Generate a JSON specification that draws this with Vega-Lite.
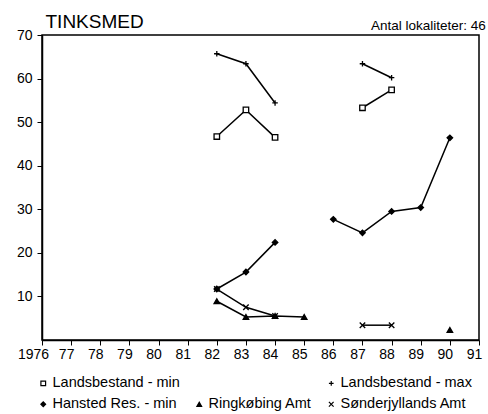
{
  "$schema": "https://vega.github.io/schema/vega-lite/v6.json",
  "autosize": "none",
  "width": 437,
  "height": 305,
  "padding": {"left": 42, "top": 35, "right": 9, "bottom": 74},
  "background": "white",
  "config": {
    "font": "Liberation Sans",
    "view": {"stroke": "black", "strokeWidth": 1.5},
    "axis": {"grid": false, "domainColor": "black", "domainWidth": 1.5, "tickColor": "black", "labelColor": "black", "labelFont": "Liberation Sans", "labelFontSize": 14}
  },
  "title": {"text": "Antal lokaliteter: 46", "anchor": "end", "fontSize": 13.5, "fontWeight": "normal", "font": "Liberation Sans", "offset": 1, "dx": 4, "dy": 21, "color": "black"},
  "data": {"values": [
    {"s": "Landsbestand - min", "seg": "a", "year": 1982, "v": 46.7},
    {"s": "Landsbestand - min", "seg": "a", "year": 1983, "v": 52.8},
    {"s": "Landsbestand - min", "seg": "a", "year": 1984, "v": 46.5},
    {"s": "Landsbestand - min", "seg": "b", "year": 1987, "v": 53.3},
    {"s": "Landsbestand - min", "seg": "b", "year": 1988, "v": 57.4},
    {"s": "Landsbestand - max", "seg": "a", "year": 1982, "v": 65.7},
    {"s": "Landsbestand - max", "seg": "a", "year": 1983, "v": 63.4},
    {"s": "Landsbestand - max", "seg": "a", "year": 1984, "v": 54.4},
    {"s": "Landsbestand - max", "seg": "b", "year": 1987, "v": 63.4},
    {"s": "Landsbestand - max", "seg": "b", "year": 1988, "v": 60.2},
    {"s": "Hansted Res. - min", "seg": "a", "year": 1982, "v": 11.7},
    {"s": "Hansted Res. - min", "seg": "a", "year": 1983, "v": 15.6},
    {"s": "Hansted Res. - min", "seg": "a", "year": 1984, "v": 22.4},
    {"s": "Hansted Res. - min", "seg": "b", "year": 1986, "v": 27.7},
    {"s": "Hansted Res. - min", "seg": "b", "year": 1987, "v": 24.6},
    {"s": "Hansted Res. - min", "seg": "b", "year": 1988, "v": 29.5},
    {"s": "Hansted Res. - min", "seg": "b", "year": 1989, "v": 30.4},
    {"s": "Hansted Res. - min", "seg": "b", "year": 1990, "v": 46.4},
    {"s": "Ringkøbing Amt", "seg": "a", "year": 1982, "v": 8.9},
    {"s": "Ringkøbing Amt", "seg": "a", "year": 1983, "v": 5.3},
    {"s": "Ringkøbing Amt", "seg": "a", "year": 1984, "v": 5.5},
    {"s": "Ringkøbing Amt", "seg": "a", "year": 1985, "v": 5.3},
    {"s": "Ringkøbing Amt", "seg": "b", "year": 1990, "v": 2.3},
    {"s": "Sønderjyllands Amt", "seg": "a", "year": 1982, "v": 11.7},
    {"s": "Sønderjyllands Amt", "seg": "a", "year": 1983, "v": 7.5},
    {"s": "Sønderjyllands Amt", "seg": "a", "year": 1984, "v": 5.5},
    {"s": "Sønderjyllands Amt", "seg": "b", "year": 1987, "v": 3.4},
    {"s": "Sønderjyllands Amt", "seg": "b", "year": 1988, "v": 3.4}
  ]},
  "encoding": {
    "x": {"field": "year", "type": "quantitative",
      "scale": {"domain": [1976, 1991], "nice": false, "zero": false},
      "axis": {"title": null, "values": [1976,1977,1978,1979,1980,1981,1982,1983,1984,1985,1986,1987,1988,1989,1990,1991],
        "labelExpr": "datum.value == 1976 ? '1976' : substring(toString(datum.value), 2, 4)",
        "labelOffset": {"condition": {"test": "datum.value == 1976", "value": -9}, "value": -5},
        "tickSize": 5, "labelPadding": 2, "labelFlush": false, "labelOverlap": false}},
    "y": {"field": "v", "type": "quantitative",
      "scale": {"domain": [0, 70], "nice": false},
      "axis": {"title": "TINKSMED", "values": [10,20,30,40,50,60,70], "tickSize": 5, "labelPadding": 5,
        "titleAngle": 0, "titleAlign": "left", "titleBaseline": "alphabetic", "titleX": 3, "titleY": -8,
        "titleFontSize": 19, "titleFontWeight": "normal", "titleFont": "Liberation Sans", "titleColor": "black"}}
  },
  "layer": [
    {"mark": {"type": "line", "color": "black", "strokeWidth": 1.5},
     "encoding": {"detail": [{"field": "s"}, {"field": "seg"}]}},
    {"mark": {"type": "point", "size": 30, "strokeWidth": 1.3, "opacity": 1},
     "encoding": {
       "shape": {"field": "s", "type": "nominal",
         "scale": {"domain": ["Landsbestand - min", " ", "Landsbestand - max", "Hansted Res. - min", "Ringkøbing Amt", "Sønderjyllands Amt"],
                   "range": ["square", "M0,0", "M-1,0H1M0,-1V1", "diamond", "triangle-up", "M-1,-1L1,1M1,-1L-1,1"]},
         "legend": {"title": null, "orient": "none", "legendX": -6, "legendY": 341, "direction": "horizontal", "columns": 3,
           "columnPadding": 12, "rowPadding": 6, "labelFontSize": 14.5, "labelFont": "Liberation Sans", "labelColor": "black",
           "labelOffset": 2, "symbolSize": 22, "symbolStrokeWidth": 1.2}},
       "fill": {"field": "s", "type": "nominal",
         "scale": {"domain": ["Landsbestand - min", " ", "Landsbestand - max", "Hansted Res. - min", "Ringkøbing Amt", "Sønderjyllands Amt"],
                   "range": ["white", "transparent", "transparent", "black", "black", "transparent"]}},
       "stroke": {"field": "s", "type": "nominal",
         "scale": {"domain": ["Landsbestand - min", " ", "Landsbestand - max", "Hansted Res. - min", "Ringkøbing Amt", "Sønderjyllands Amt"],
                   "range": ["black", "transparent", "black", "black", "black", "black"]}}
     }}
  ]
}
